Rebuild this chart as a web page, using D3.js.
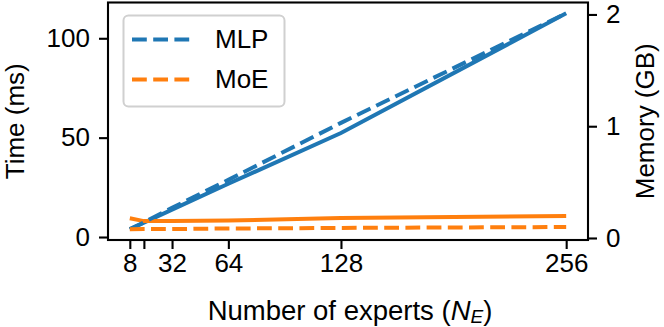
<!DOCTYPE html>
<html>
<head>
<meta charset="utf-8">
<script src="https://cdn.jsdelivr.net/npm/d3@7"></script>
<style>
  body { margin: 0; background: #fff; }
  svg text { font-family: "Liberation Sans", Arial, sans-serif; fill: #000; }
</style>
</head>
<body>
<div id="chart"></div>
<script>
// experts vs time (solid, left axis) and memory (dashed, right axis)

var experts = [8, 16, 32, 64, 128, 256];
var xTicks = [8, 16, 32, 64, 128, 256];
var xTickLabels = ["8", "", "32", "64", "128", "256"];

var mlpTime = [3.9, 7.2, 13.8, 26.8, 52.3, 112.6];
var moeTime = [9.4, 8.0, 8.1, 8.3, 9.6, 10.6];
var mlpMem = [0.079, 0.14, 0.27, 0.52, 1.03, 2.01];
var moeMem = [0.079, 0.08, 0.08, 0.085, 0.09, 0.098];

var timeTicks = [0, 50, 100];
var memTicks = [0, 1, 2];

var seriesNames = ["MLP", "MoE"];
var colors = ["#1f77b4", "#ff7f0e"];

var width = 664, height = 327;
var box = { left: 108, right: 588, top: 2.5, bottom: 240 };
var fontSize = 26;
var lw = 4;
var dash = (3.7 * lw) + "," + (1.6 * lw);

var svg = d3.select("#chart").append("svg")
    .attr("width", width)
    .attr("height", height);

var xScale = d3.scaleLinear()
    .domain([-4.4, 268.4])
    .range([box.left, box.right]);

var yTime = d3.scaleLinear()
    .domain([-1.5, 118])
    .range([box.bottom, box.top]);

var yMem = d3.scaleLinear()
    .domain([-0.018, 2.107])
    .range([box.bottom, box.top]);

function lineFor(scale) {
    return d3.line()
        .x(function(d) { return xScale(d[0]); })
        .y(function(d) { return scale(d[1]); });
}

var plot = svg.append("g");

function drawSeries(vals, scale, color, dashed) {
    var pts = experts.map(function(e, i) { return [e, vals[i]]; });
    plot.append("path")
        .attr("d", lineFor(scale)(pts))
        .attr("fill", "none")
        .attr("stroke", color)
        .attr("stroke-width", lw)
        .attr("stroke-dasharray", dashed ? dash : null);
}

drawSeries(mlpTime, yTime, colors[0], false);
drawSeries(moeTime, yTime, colors[1], false);
drawSeries(mlpMem, yMem, colors[0], true);
drawSeries(moeMem, yMem, colors[1], true);

// axes
function styleAxis(g) {
    g.select(".domain").remove();
    g.selectAll(".tick line").attr("stroke", "#000").attr("stroke-width", 2.1);
    g.selectAll(".tick text").attr("font-size", fontSize);
}

var xAxis = d3.axisBottom(xScale)
    .tickValues(xTicks)
    .tickFormat(function(d, i) { return xTickLabels[i]; })
    .tickSize(9)
    .tickPadding(5);
svg.append("g")
    .attr("transform", "translate(0," + box.bottom + ")")
    .call(xAxis)
    .call(styleAxis);

var yAxisL = d3.axisLeft(yTime)
    .tickValues(timeTicks)
    .tickSize(9)
    .tickPadding(9);
svg.append("g")
    .attr("transform", "translate(" + box.left + ",0)")
    .call(yAxisL)
    .call(styleAxis);

var yAxisR = d3.axisRight(yMem)
    .tickValues(memTicks)
    .tickFormat(d3.format("d"))
    .tickSize(9)
    .tickPadding(9);
svg.append("g")
    .attr("transform", "translate(" + box.right + ",0)")
    .call(yAxisR)
    .call(styleAxis);

svg.append("rect")
    .attr("x", box.left)
    .attr("y", box.top)
    .attr("width", box.right - box.left)
    .attr("height", box.bottom - box.top)
    .attr("fill", "none")
    .attr("stroke", "#000")
    .attr("stroke-width", 2.1);

// axis labels
var xl = svg.append("text")
    .attr("x", (box.left + box.right) / 2 + 2)
    .attr("y", 320)
    .attr("text-anchor", "middle")
    .attr("font-size", 27.5);
xl.append("tspan").text("Number of experts (");
xl.append("tspan").attr("font-style", "italic").text("N");
xl.append("tspan").attr("font-style", "italic").attr("font-size", 19).attr("dy", 3).text("E");
xl.append("tspan").attr("dy", -3).text(")");

svg.append("text")
    .attr("transform", "translate(24," + (box.top + box.bottom) / 2 + ") rotate(-90)")
    .attr("text-anchor", "middle")
    .attr("font-size", fontSize)
    .text("Time (ms)");

svg.append("text")
    .attr("transform", "translate(654," + (box.top + box.bottom) / 2 + ") rotate(-90)")
    .attr("text-anchor", "middle")
    .attr("font-size", fontSize)
    .text("Memory (GB)");

// legend
var legend = svg.append("g");
legend.append("rect")
    .attr("x", 123.5)
    .attr("y", 15.5)
    .attr("width", 161)
    .attr("height", 91)
    .attr("rx", 5)
    .attr("fill", "#fff")
    .attr("fill-opacity", 0.8)
    .attr("stroke", "#d0d0d0")
    .attr("stroke-width", 2);

seriesNames.forEach(function(name, i) {
    var y = 39.5 + i * 40;
    legend.append("line")
        .attr("x1", 132).attr("x2", 192)
        .attr("y1", y).attr("y2", y)
        .attr("stroke", colors[i])
        .attr("stroke-width", lw)
        .attr("stroke-dasharray", dash);
    legend.append("text")
        .attr("x", 215)
        .attr("y", y + 8)
        .attr("font-size", fontSize)
        .text(name);
});
</script>
</body>
</html>
